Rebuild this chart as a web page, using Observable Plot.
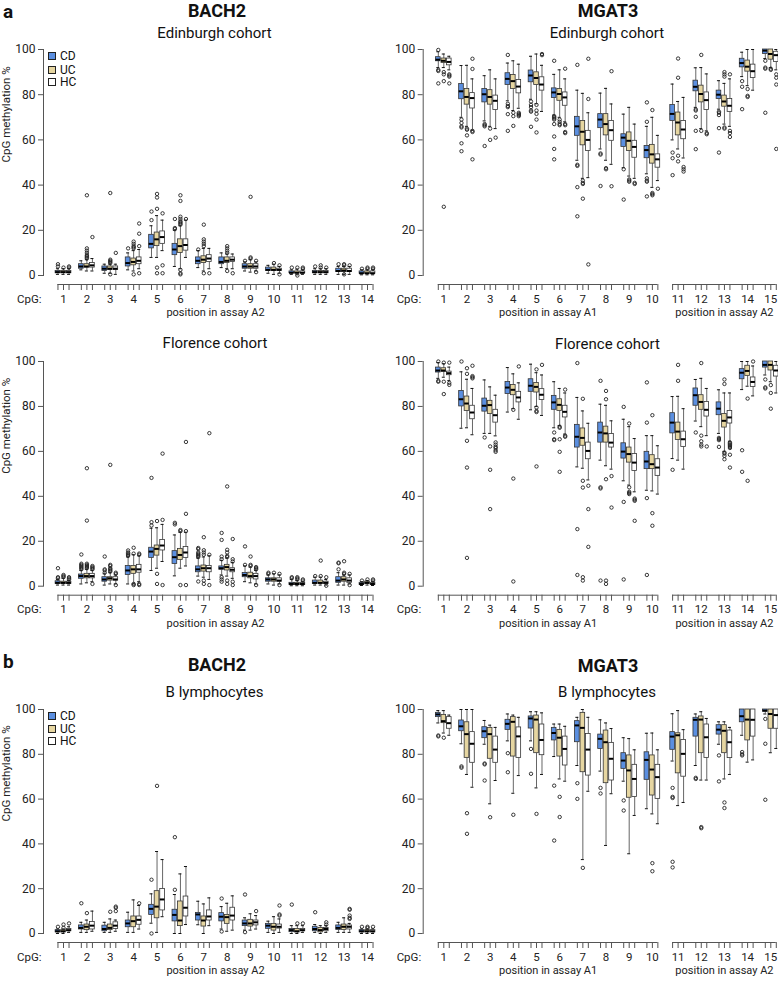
<!DOCTYPE html>
<html><head><meta charset="utf-8">
<script src="https://cdn.jsdelivr.net/npm/d3@7"></script>
<script src="https://cdn.jsdelivr.net/npm/@observablehq/plot@0.6"></script>
<style>
body{margin:0;background:#fff;}
#fig{position:relative;width:778px;height:981px;overflow:hidden;font-family:Roboto,"DejaVu Sans",sans-serif;color:#111;}
.abs{position:absolute;white-space:nowrap;line-height:1;}
.gene{font-weight:bold;font-size:18px;transform:translate(-50%,-50%);}
.sub{font-size:15px;transform:translate(-50%,-50%);}
.letter{font-weight:bold;font-size:19px;transform:translateY(-50%);}
.leg{font-size:12px;display:flex;align-items:center;transform:translateY(-50%);}
.sw{width:6px;height:6px;border:1px solid #222;margin-right:4px;}
.panel{position:absolute;}
.panel svg{max-width:none;background:none;overflow:visible;display:block;}
</style></head>
<body><div id="fig"></div>
<script>
const FONT = "Roboto, 'DejaVu Sans', sans-serif";
const groups = ["CD","UC","HC"];
const groupColors = ["#5b8fe0","#e6d6a1","#ffffff"];
const bachCpG = [1,2,3,4,5,6,7,8,9,10,11,12,13,14];
const bachAssay = Array(14).fill("A2");
const mgatCpG = [1,2,3,4,5,6,7,8,9,10,11,12,13,14,15];
const mgatAssay = ["A1","A1","A1","A1","A1","A1","A1","A1","A1","A1","A2","A2","A2","A2","A2"];
const yTicks = [0,20,40,60,80,100];
const yLabelText = "CpG methylation %";

// each entry: [lower whisker, Q1, median, Q3, upper whisker, [outliers]]
// BACH2 – Edinburgh
const bachEdinCD = [
[0.5,1,1.5,2,3,[4,5]],[2.5,3,4,5,6.5,[]],[1,2,3,4,5,[]],[2.5,4,5.5,8,10,[12]],
[8,12,14,18,22,[24.5,28.3]],[4,9,11.5,14,20,[20.5,21,25]],[3.5,5,6.5,8,11,[11.5]],
[3.5,5,6,8,10,[]],[2,3,4,5,6,[6.5]],[1,2,2.5,3.5,4.5,[]],[0.5,1,1.2,1.8,2.5,[3.5]],
[0.5,1,1.5,2,3,[4]],[0.5,1.5,2,3,4,[5]],[0.3,0.8,1,1.8,2.5,[3]]];
const bachEdinUC = [
[0.5,1,1.5,2,3,[3.5]],[2,3.5,4,5,7,[7.5,8,8.5,9,10,11,12,35.5]],[1,2.5,3,4,5,[5.5,6,6.5,7,36.5,0.5]],
[2,4.5,6,7.5,11,[12,12.5,13,14,15,0.5]],[8,13,16,19,26.5,[29.5,34.5,36.1,3.5,1]],
[3,10,13,16,22,[22.5,23,23.5,24,25,26,33,35.5,2.5,1,0.5]],[2,5.5,7,8.5,12,[13,14,15,16,22.5,1]],
[3,5.5,6.5,8,9.5,[10,11,12,13,2]],[1.5,3,4,5,7,[7.5,8,34.8]],[0.5,2,2.5,3.5,5,[5.5]],
[0.3,1,1.2,1.8,2.8,[3.5,0]],[0.5,1,1.5,2,3,[4.5,3.5]],[0.5,1.5,2.2,3,4,[4.5,5,0.5]],[0.3,0.8,1,1.8,2.5,[3,3.5]]];
const bachEdinHC = [
[0.5,1,1.5,2,3,[3.5,4]],[2,3.5,4.5,5.5,7.5,[17]],[0.5,2.5,3,4,5,[10]],[3,5,6.5,8,11.5,[13,18.5,23,1]],
[11,14,17,19.5,24.5,[27.5,4.5,1]],[8,11,13.5,16,24.5,[25]],[3,6,7.5,9,12,[1]],[3,6,7,8,9.5,[1]],
[2,3,4,5,6,[1.5,6.5]],[1,2,2.5,3,4,[0.5,4.5]],[0.5,1,1.2,1.8,2.5,[3,3.5]],[0.5,1,1.5,2,3,[3.5]],
[0.5,1.5,2,3,4,[4.5]],[0.3,0.8,1,1.8,2.5,[3,3.5]]];

// MGAT3 – Edinburgh
const mgatEdinCD = [
[92,94.8,95.5,96.6,99,[90.5,91,85,99.8]],[70,78,81.5,84.7,92.9,[69,67.5,66,65.5,58.5,55]],
[68.4,76.6,80.2,82.5,88.4,[67,66.5,66,57.3]],[77.3,84.3,87,89.5,94,[97.6,76,75,74.5,71.4,64]],
[78,85.5,88.5,90.7,97,[77,75.5,74.5,73,72.5,65.8]],[71,78.5,81,82.8,89,[95,70.5,70,69.5,69,67,61.5,56,51.4]],
[51,61.8,66,70.2,82,[93.2,49,48.5,39.1,26.2]],[56,65.2,69,71.4,80.7,[54,53.5,39.6]],
[47.7,56.9,61,62.5,71.4,[47,33.6]],[45,51.9,55.5,57.3,66,[76.6,68,43,42,41.5,35]],
[60,68.4,71.5,75.4,84.7,[54.4,51.9,44.4]],[74.4,81.5,83.5,86.2,91.9,[73.5,73,70.2,64,55.9]],
[73.6,78.1,80,81.8,86.2,[72.5,72,71,65.2,54.4]],[88,92.1,94,95.9,98.8,[86,83.5,73.6]],
[96,98,99.5,100,100,[95,92,91.5,72]]];
const mgatEdinUC = [
[92,94,95,96,98,[90,89,86,30.4]],[66,75.6,79,82.5,93,[65,64.5,62]],[66,75.6,79,82,91,[65,60]],
[73,82.5,86,88.7,95,[72,70.5,66.2]],[76,84.3,87.4,89.9,98,[75.5,73,71.5,69,63.3]],
[70,77.3,80.3,82.5,91,[69,68,67,66.5]],[43,57.6,63.6,68.4,80.6,[42,41,40.5,34]],
[51,62,67,71.4,82.8,[47.5,47]],[44,55.1,59.6,63.3,74.4,[42.5,42,41.5]],
[39,49.5,53.6,57.8,70,[73.2,36.5,36,35.5]],[56,62,67.7,72.1,77,[96,87.5,53,50.5]],
[65,76.6,80.3,84,92,[97.6,64]],[67,74.7,77,79.6,85,[90,89,88,65.5,65]],
[84,90.2,92.4,95.1,100,[82.5,79.5,79]],[92,95.5,98,100,100,[91.5,91]]];
const mgatEdinHC = [
[91,93,94.5,96,97,[89,88.5,88,85]],[64.3,73.9,78.5,80.7,87,[95.9,91.4,64,63.5,51.4]],
[65,73.2,77.3,79.6,87,[61]],[74,80.6,83.6,86.5,93.5,[72,71.5,71,70.5]],
[72.6,81.8,84.5,87.7,93,[98,97.5]],[68,75.1,78.8,81,87,[91.5,67,66.5,63.5,63]],
[43.3,55.1,60,64,72,[95.9,78.1,4.9]],[49.2,59.6,64.3,68.4,75.9,[90.4,39.5]],
[43,52.1,56.9,59.6,67,[41,40.5]],[42,47.7,51.4,53.6,62,[38.4]],
[52,60.3,64.6,68.4,78.8,[48,47,46]],[64,73.2,77.6,81,89.2,[63,62.5]],
[66,72.4,75.1,78.1,87,[89,64,63,61.3]],[82,87.4,90.4,93.3,100,[]],
[91,94.5,97.5,99,100,[89,87.5,84.5,56]]];

// BACH2 – Florence
const bachFlorCD = [
[0.5,1,1.5,2.2,3,[3.5,4,8]],[1,3.3,4.5,5.2,7,[7.5,8,8.5,9,9.5,10,14.1]],[0.5,2,3,4,5.5,[6,7,7.5,13.2]],
[1,5,7,9,13,[13.5,14,14.5,15,15.9]],[7,12.6,15.4,17.1,25.8,[27,28.5,48.2]],[4.6,9.9,12.9,15.6,22.8,[27.5,28.2]],
[4.5,6.2,7.5,8.8,12.5,[13,13.5,14,14.5,15,16.5,17,2.1]],[5,7.3,8,8.8,11.5,[12,13.2,20.6,23.7,4,3,2]],
[2,4,5,5.9,9,[9.5,17.7]],[1,2,3,3.5,5,[5.5,6]],[0.2,0.5,1,1.5,3,[3.5,4]],[0.5,1,1.5,2.5,4,[4.5]],
[0.5,1.5,2.5,4,6,[7.5,10.2,10.5]],[0.3,0.5,1,1.5,2,[2.5]]];
const bachFlorUC = [
[0.5,1,1.5,2,3.5,[4,4.5,5]],[1.5,3.5,4.5,5.5,7.5,[8,8.5,9,9.5,10,29.2,52.5]],
[1,2.5,3.5,4,6,[6.5,7,7.5,8,9,9.5,54]],[1,5.5,7.5,9,14,[14.5,17.1,0.5,1]],
[8,13.6,16.6,18.1,26,[29,5.5,1]],[8,11.7,13.9,16.6,24,[24.5,25,0.5]],
[4,6.5,8,9.2,13,[14,15,16,21.8,2.5,1]],[4.5,7,8.5,9.5,12.5,[13,13.5,15,16.2,44.4,2.5,1]],
[1.5,3.5,4.5,6,8.5,[9,9.5,13.2]],[0.5,2,3,3.5,5.5,[6]],[0.2,0.5,1,1.5,2.5,[3,3.5,4]],
[0.5,1,1.5,2.5,4,[4.5,11.4]],[0.5,2,3,4,5,[5.5,6,11.1]],[0.5,1,1.5,2,2.5,[3]]];
const bachFlorHC = [
[0.5,1,1.5,2,2.5,[3,3.5,4]],[2,3.5,4.5,5.5,7,[7.5,8,8.5,9,1]],[1,2.5,3,4,5,[5.5,6,0.5]],
[2,6,7.5,9.5,13.5,[14,14.5,0.5,1]],[11,15.9,18.1,20.6,27.5,[29.5,0.5,59]],
[9,12.6,15,17.4,24,[24.5,32.2,64.2,0.5]],[3,6.2,8,9,13.5,[14,0.5,68.1]],
[3.5,6.2,7.3,8,10.5,[11,12,21,2,0.5]],[1,3,4.5,5.5,7,[7.5,8,8.5,0.5]],[1,2,2.5,3.5,5,[5.5,0.5]],
[0.2,0.5,1,1.5,2,[2.5,3]],[0.5,1,1.5,2,3,[4,0.2]],[1,1.5,2.5,3.5,5,[5.5,0.5]],[0.3,0.5,1,1.5,2,[2.5,3]]];

// MGAT3 – Florence
const mgatFlorCD = [
[92.5,95.1,96,97.3,99.5,[91,91.4,100]],[70.3,80,83.2,86.9,95.4,[100]],[68,77.7,80.3,83.5,91.8,[66.2]],
[77.5,85.5,88.4,90.9,97.3,[]],[78.5,86.5,89.2,92.1,98.8,[]],[70.5,78.5,81.8,84.7,91,[68.4,65.4,65]],
[53.1,61.7,66.5,71.8,84,[99.3,25.4,5]],[56.1,63.9,68.4,72.8,81,[91.4,44,43.5,2.5]],
[46.9,56.8,59.9,63.6,74.3,[79.8,37.5,3]],[42.7,52.1,55.5,59.8,67,[90.7,72.8,39.2,5]],
[56.8,68,72.8,77,84.4,[51.8]],[73.5,80.3,85,88,92,[68.4]],[68,76.1,79,81.8,87.4,[66,65.5,65,62]],
[87.5,92.1,95,96.6,100,[60.5,50.9]],[94,97.3,98.5,100,100,[92,88.5,88]]];
const mgatFlorUC = [
[93,95.4,96,97,99,[99.5,91,85.5]],[70.5,78,81.3,84.4,92.1,[97,94.5,64.7,52.8,12.6]],
[68,76.6,80.6,82.5,88.7,[62.2,51.8,34.3]],[79,85,87.4,89.5,94.5,[78.5,47.9,2.1]],
[80,86.2,88.7,90.4,95,[96.5,79.5,78,77.5,53.3]],[71.5,78,80.7,83.2,88,[71,70.5,65.4,59.8,50.9]],
[52.5,62.5,66,70.2,78,[83.4,46.9,43.9,4,2.5]],[53.6,63.9,68,71,80.5,[86.9,83.2,47.6,2.5,1]],
[45,55,58.8,61.7,71,[72.4,44,42,41.5,41]],[42.4,52.1,54.3,58.3,67,[76.1,32.5,26.9]],
[56.1,65.1,68.8,72.8,84.5,[98.5,91.4]],[71,78.5,82,85,92.5,[99.3,67,64.5,63,62.2]],
[60,70.6,73.6,76.6,86,[92,90,59.5,59,58,56.5]],[89,93.6,95.8,98.1,100,[83.5,46.9]],
[91,96,98.5,100,100,[89.5,86,79]]];
const mgatFlorHC = [
[91.5,93.9,94.8,95.5,97.5,[99.5,90.5,89.6]],[67.4,74.3,77.3,80.3,88,[98.1,93.5,93,92.5]],
[66.9,72.8,76.1,78.5,85,[64,63,62,61.5,60.5,59.8]],[74.3,81.8,84,86.5,90.5,[97.8]],
[76,82.9,85.2,87.7,94,[98.5]],[67.7,75.1,77.6,80.3,86,[87.5,67,66.5]],
[47.3,56.5,60.2,63.9,72.5,[44.7,34.3,17.5]],[52.1,61.7,63.9,67.7,73.6,[49,35]],
[42,51.3,55,58.8,65.7,[39,38.5,38,29.1]],[41,49.1,52.8,56.5,62.5,[]],[52.1,62,65.4,68.8,79,[]],
[67,75.5,78.5,82,88,[62.2]],[64.5,72.4,75.1,78,86,[64,63.5,63,62.5,62,61.5,58.5,52.8]],
[84.7,88.7,90.9,92.9,98,[100]],[86,93.3,96,98.1,100,[]]];

// BACH2 – B lymphocytes
const bachBlymCD = [
[0,0.5,1,1.5,2,[3]],[0.5,1.8,2.5,3.6,5,[13.5]],[0.5,1,2,3.5,5,[]],[0.5,2.8,4.5,5.8,9.5,[]],
[4.6,8.3,11,12.8,17.7,[24,0]],[0,5.4,8.3,10.6,17.4,[19.5,43]],[3.9,5.8,8.5,9.2,14.4,[]],
[2,5.4,7.5,9.1,12,[15.6,0.9]],[1.5,3.3,4.5,5.8,7,[17.4,0.6]],[0.5,2.1,3.5,4.3,5.5,[]],
[0,0.6,1.5,2,3.5,[12.9]],[0.5,1,2,3,4,[9.5]],[0.5,1.6,2.5,3.6,5,[]],[0,0.5,1,1.5,2,[3]]];
const bachBlymUC = [
[0,0.5,1,1.5,2,[2.5,4]],[0.5,1.5,3,4,6,[9.1]],[0.5,1.5,2.5,4,6.5,[9.7]],[0.5,2.8,5.5,7.6,15,[]],
[0.5,6.8,12,18.9,36.6,[65.9]],[0,3.3,5.8,14.3,26.6,[]],[0,3.1,5.8,7.6,13.2,[]],[1,4.3,7.3,8.3,13.5,[]],
[1.5,3.1,4.5,6.1,8.8,[]],[0,1.3,3,4.3,7.5,[]],[0,0.5,1,2,3.5,[4.5]],[0,0.5,1.5,2.5,3.5,[]],
[0.5,1.6,3,4,7,[]],[0,0.5,1,1.5,2,[2.5,3]]];
const bachBlymHC = [
[0.5,1,1.5,2,3,[4.5]],[1,1.8,3.5,5.1,10,[]],[1,2,3.5,5,6,[10,11.5,12]],[2,3.9,6.1,7.6,12.5,[13.5]],
[7.5,10.3,15.2,19.9,33,[]],[4,7.6,11.5,16.5,29.9,[]],[3.5,5.8,7.6,10.3,15.9,[]],[1.5,5.8,8,11.5,16.8,[]],
[2,3.6,5,5.8,8,[10]],[0.5,2.2,3,4,6.5,[8,8.5,12.5]],[0.5,1,1.5,2,3.5,[4.5]],[0.5,1,2,2.5,3.5,[4,5]],
[0.5,1.8,3,3.6,4.5,[6.5,7,8,10.6,11]],[0,0.5,1,1.5,2,[3]]];

// MGAT3 – B lymphocytes
const mgatBlymCD = [
[94,96.6,97.8,98.5,99.5,[88.4,88]],[84.7,90.3,92.5,95.1,100,[74.6,74]],[84.5,87.2,90.3,92.1,95.1,[75.9,75.5,68.3]],
[86,90.9,93.6,95.4,98,[80.5,72]],[86,91.5,96,96.9,99,[82.4,71.3]],[79,86.2,89.5,91.8,93.5,[66,41.5]],
[75,85.4,92.9,94.8,96.5,[67.1,60.1]],[72.5,82.4,86.9,88.8,95.4,[65,62.5]],[68,73.5,77.2,80.5,87.4,[59.4,54.9]],
[55.7,68.6,77.5,80.9,89.4,[]],[77,82,87.9,89.9,98.1,[65,61,60.5,32,29.5]],[75,87.9,95.4,96.3,98,[69.5,69]],
[84.5,88.8,91,93,94.5,[79.5,67.9]],[88.5,94.3,97,100,100,[81,80,79.5]],[98,99,99.5,100,100,[95.8,84.7,59.7]]];
const mgatBlymUC = [
[89.5,93.9,94.8,97.6,99.5,[87.4]],[71,78.4,89,94.3,100,[53.7,44.5]],[57.9,78,89,91.8,93,[51.9]],
[62.6,79,94.5,96.6,97.5,[53]],[65,80.5,95.5,97.3,99,[53.4]],[69,79,87.4,90.9,93.5,[61,52]],
[33,72,91.8,98.5,100,[29.3]],[39.3,67.1,85.4,90.6,94,[]],[35.6,60.6,72.8,79.5,87,[]],
[53.4,61.6,73.2,79.5,89.5,[31.4,27.8]],[57.1,71.5,88.5,89.4,99.5,[]],[68.5,80.5,95.5,96.9,99,[47.5,47]],
[69,80.5,90.5,93,94.5,[58.5,56]],[76.5,86.2,95.5,100,100,[]],[80.7,91.4,98,100,100,[]]];
const mgatBlymHC = [
[88.5,91.4,93.9,96.6,97.5,[]],[65.3,76.2,84.7,89.9,100,[]],[68.3,76.2,82.1,87.9,92,[]],
[70.5,78.4,88,92,96.5,[]],[71,79.6,86.4,93.3,98.5,[]],[68,75,82.4,87.9,92.5,[]],
[63.5,70.5,82.1,89.1,96.5,[]],[62.4,68.3,78,85.1,91.5,[]],[52.7,60.9,69,75.3,82,[]],
[49,60.1,69.8,75.3,82,[]],[58.5,70,80.2,86.4,91,[]],[68.5,78.4,87.6,93.3,96,[]],
[71,78.3,85.4,90.6,92,[]],[77.5,87.9,95.4,100,100,[]],[82.6,91.4,97.5,100,100,[]]];

// ---------- layout ----------
const fig = document.getElementById("fig");
function addDiv(cls, text, x, y) {
  const d = document.createElement("div");
  d.className = "abs " + cls; d.textContent = text;
  d.style.left = x + "px"; d.style.top = y + "px";
  fig.appendChild(d); return d;
}
function addLegend(x, ys) {
  groups.forEach((g, i) => {
    const d = document.createElement("div");
    d.className = "abs leg"; d.style.left = x + "px"; d.style.top = ys[i] + "px";
    const sw = document.createElement("span"); sw.className = "sw"; sw.style.background = groupColors[i];
    const t = document.createElement("span"); t.textContent = g;
    d.appendChild(sw); d.appendChild(t); fig.appendChild(d);
  });
}

const offs = {CD: -0.237, UC: 0, HC: 0.237};
const assayGap = 0.11;
const halfBox = 0.1, halfCap = 0.065;

function drawPanel({series, cpgs, assays, left, y100, y0, width, marginLeft, xRange, yLabel}) {
  const mt = 10, mb = 48;
  const frameH = y0 - y100;
  const height = mt + frameH + mb;
  const pos = cpgs.map((c, i) => c + (assays[i] === "A2" && assays[0] === "A1" ? assayGap : 0));
  const rows = [], outs = [], ticks = [];
  groups.forEach((g, gi) => series[gi].forEach((s, i) => {
    const p = pos[i] + offs[g];
    rows.push({g, pos: p, lo: s[0], q1: s[1], med: s[2], q3: s[3], hi: s[4]});
    ticks.push(p);
    s[5].forEach(v => outs.push({g, pos: p, v}));
  }));
  const segs = [...new Set(assays)].map(a => {
    const p = pos.filter((_, i) => assays[i] === a);
    const lo = d3.min(p), hi = d3.max(p);
    return {x1: lo + offs.CD, x2: hi + offs.HC, mid: (lo + hi) / 2, label: "position in assay " + a};
  });
  const svg = Plot.plot({
    width, height, marginTop: mt, marginBottom: mb, marginLeft, marginRight: 0,
    x: {domain: [pos[0], pos[pos.length - 1]], range: xRange, axis: null, label: null},
    y: {domain: [0, 100], axis: null, label: null},
    color: {domain: groups, range: groupColors},
    style: {fontFamily: FONT, fontSize: "12px", background: "none", overflow: "visible", color: "#222"},
    marks: [
      Plot.frame({anchor: "left", stroke: "#555"}),
      Plot.axisY(yTicks, {anchor: "left", tickSize: 5, tickPadding: 3, label: null, stroke: "#555", fontSize: 12}),
      yLabel ? Plot.text([yLabel], {frameAnchor: "left", dx: -37, rotate: -90, fontSize: 11.5}) : null,
      Plot.ruleY(segs, {y: 0, x1: "x1", x2: "x2", dy: 9, stroke: "#555"}),
      Plot.axisX(ticks, {anchor: "bottom", tickSize: 6, dy: 9, tickFormat: () => "", stroke: "#555", label: null}),
      Plot.text(cpgs, {x: (d, i) => pos[i], text: d => String(d), frameAnchor: "bottom", dy: 27, fontSize: 11.5}),
      Plot.text(["CpG:"], {frameAnchor: "bottom-left", textAnchor: "end", dx: -2, dy: 27, fontSize: 11.5}),
      Plot.text(segs, {x: "mid", text: "label", frameAnchor: "bottom", dy: 40.5, fontSize: 11}),
      Plot.ruleX(rows, {x: "pos", y1: "lo", y2: "q1", stroke: "#666"}),
      Plot.ruleX(rows, {x: "pos", y1: "q3", y2: "hi", stroke: "#666"}),
      Plot.ruleY(rows, {y: "lo", x1: d => d.pos - halfCap, x2: d => d.pos + halfCap, stroke: "#111"}),
      Plot.ruleY(rows, {y: "hi", x1: d => d.pos - halfCap, x2: d => d.pos + halfCap, stroke: "#111"}),
      Plot.rect(rows, {x1: d => d.pos - halfBox, x2: d => d.pos + halfBox, y1: "q1", y2: "q3", fill: "g", stroke: "#333", strokeWidth: 0.8}),
      Plot.ruleY(rows, {y: "med", x1: d => d.pos - halfBox, x2: d => d.pos + halfBox, stroke: "#000", strokeWidth: 2}),
      Plot.dot(outs, {x: "pos", y: "v", r: 1.7, stroke: "#222", strokeWidth: 0.9, fill: "none"})
    ]
  });
  const wrap = document.createElement("div");
  wrap.className = "panel";
  wrap.style.left = left + "px"; wrap.style.top = (y100 - mt) + "px";
  wrap.appendChild(svg); fig.appendChild(wrap);
}

const rowsGeom = [
  {y100: 49, y0: 275, bach: [bachEdinCD, bachEdinUC, bachEdinHC], mgat: [mgatEdinCD, mgatEdinUC, mgatEdinHC]},
  {y100: 361, y0: 585.7, bach: [bachFlorCD, bachFlorUC, bachFlorHC], mgat: [mgatFlorCD, mgatFlorUC, mgatFlorHC]},
  {y100: 709, y0: 933, bach: [bachBlymCD, bachBlymUC, bachBlymHC], mgat: [mgatBlymCD, mgatBlymUC, mgatBlymHC]}
];
rowsGeom.forEach(r => {
  drawPanel({series: r.bach, cpgs: bachCpG, assays: bachAssay, left: 0, y100: r.y100, y0: r.y0,
    width: 380, marginLeft: 43, xRange: [63, 367], yLabel: yLabelText});
  drawPanel({series: r.mgat, cpgs: mgatCpG, assays: mgatAssay, left: 380, y100: r.y100, y0: r.y0,
    width: 398, marginLeft: 42.7, xRange: [63.3, 390.3], yLabel: null});
});

// titles
addDiv("letter", "a", 3, 11);
addDiv("gene", "BACH2", 217, 11);
addDiv("gene", "MGAT3", 608, 11);
addDiv("sub", "Edinburgh cohort", 214.5, 33);
addDiv("sub", "Edinburgh cohort", 607, 33);
addDiv("sub", "Florence cohort", 215, 343);
addDiv("sub", "Florence cohort", 607.5, 344);
addDiv("letter", "b", 3, 661);
addDiv("gene", "BACH2", 217, 665);
addDiv("gene", "MGAT3", 608, 666);
addDiv("sub", "B lymphocytes", 214.5, 692);
addDiv("sub", "B lymphocytes", 607, 692);
addLegend(48, [55.5, 69.5, 82]);
addLegend(48, [715.5, 728.5, 741]);
</script>
</body></html>
